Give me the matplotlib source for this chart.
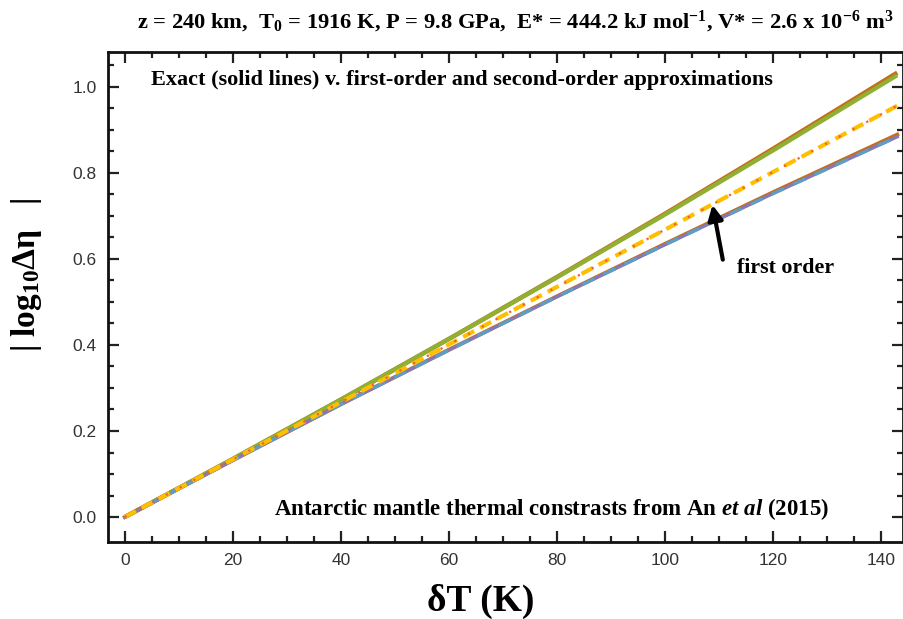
import matplotlib.pyplot as plt

plt.rcParams['mathtext.fontset'] = 'custom'
plt.rcParams['mathtext.rm'] = 'Liberation Serif:bold'
plt.rcParams['mathtext.it'] = 'Liberation Serif:italic:bold'
plt.rcParams['mathtext.bf'] = 'Liberation Serif:bold'

# temperature contrast (K)
dT = [0, 20, 40, 60, 80, 100, 120, 143]
# |log10 dEta|
exact_cool = [0.0, 0.135, 0.273, 0.414, 0.558, 0.705, 0.856, 1.033]
second_cool = [0.0, 0.135, 0.273, 0.414, 0.557, 0.703, 0.852, 1.027]
first_order = [0.0, 0.134, 0.267, 0.401, 0.535, 0.668, 0.802, 0.956]
exact_heat = [0.0, 0.132, 0.262, 0.389, 0.513, 0.635, 0.755, 0.889]
second_heat = [0.0, 0.132, 0.262, 0.388, 0.512, 0.633, 0.752, 0.884]

serif = 'Liberation Serif'

fig = plt.figure(figsize=(9.04, 6.19), dpi=100)
ax = fig.add_axes([0.1195, 0.1244, 0.879, 0.7916])

ax.plot(dT, exact_cool, color='#C56E1A', lw=3.2, solid_capstyle='butt')
ax.plot(dT, second_cool, color='#8FB032', lw=3.0, solid_capstyle='butt')
ax.plot(dT, exact_heat, color='#C56E1A', lw=2.8)
ax.plot(dT, second_heat, color='#8778B3', lw=2.4)
ax.plot(dT, second_heat, color='#5D9EC7', lw=2.4, ls=(0, (4, 3)))
ax.plot(dT, first_order, color='#FFBF00', lw=3.0, ls=(0, (3, 1.6)))
ax.plot(dT, first_order, color='#EB6235', lw=1.6, ls=(0, (1, 6)))

ax.set_xlim(-3.1, 144)
ax.set_ylim(-0.058, 1.081)
ax.set_xticks(range(0, 141, 20))
ax.set_xticks(range(0, 145, 5), minor=True)
ax.set_yticks([0.0, 0.2, 0.4, 0.6, 0.8, 1.0])
ax.set_yticks([i * 0.05 for i in range(0, 22)], minor=True)
ax.set_yticklabels(['0.0', '0.2', '0.4', '0.6', '0.8', '1.0'])
ax.tick_params(which='both', direction='in', top=True, right=True,
               labeltop=False, labelright=False, width=1.6, color='#222222')
ax.tick_params(which='major', length=8, labelsize=12.5, labelcolor='#333333', pad=8)
ax.tick_params(which='minor', length=4.5)
for s in ax.spines.values():
    s.set_linewidth(2)
    s.set_color('#111111')
for lab in ax.get_xticklabels() + ax.get_yticklabels():
    lab.set_family('Liberation Sans')

ax.set_xlabel('δT (K)', family=serif, fontweight='bold', fontsize=27)
ax.xaxis.set_label_coords(0.469, -0.085)
ax.set_ylabel('| log$_{10}$Δη   |', family=serif, fontweight='bold', fontsize=24)
ax.yaxis.set_label_coords(-0.102, 0.545)
ax.yaxis.label.set_va('center')

fig.text(0.570, 0.964,
         'z = 240 km,  T$_{0}$ = 1916 K, P = 9.8 GPa,  E* = 444.2 kJ mol$^{-1}$, V* = 2.6 x 10$^{-6}$ m$^{3}$',
         family=serif, fontweight='bold', fontsize=16.2, ha='center', va='center')

ax.text(62.4, 1.016, 'Exact (solid lines) v. first-order and second-order approximations',
        family=serif, fontweight='bold', fontsize=16, ha='center', va='center')
ax.text(79.0, 0.018, 'Antarctic mantle thermal constrasts from An $\\mathit{et\\ al}$ (2015)',
        family=serif, fontweight='bold', fontsize=16.5, ha='center', va='center')

ax.annotate('', xy=(108.7, 0.732), xytext=(110.8, 0.592),
            arrowprops=dict(arrowstyle='-|>', lw=3, color='black', mutation_scale=22))
ax.text(113.4, 0.579, 'first order', family=serif, fontweight='bold',
        fontsize=15.8, ha='left', va='center')

fig.savefig('out.png', dpi=100)
